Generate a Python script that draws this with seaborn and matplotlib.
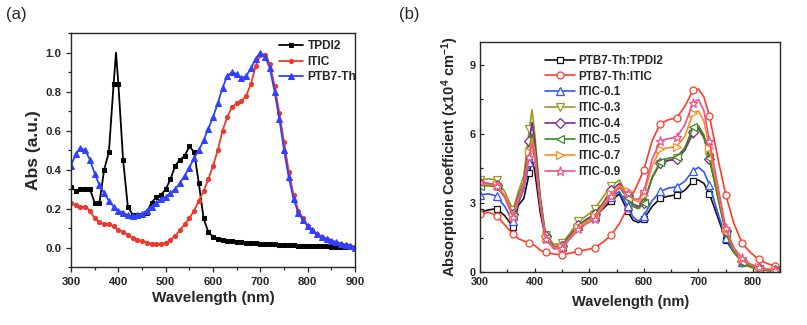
import matplotlib
matplotlib.use("Agg")
import matplotlib.pyplot as plt
import seaborn as sns
import numpy as np
from matplotlib.ticker import MultipleLocator

# ---------------- Panel (a) data ----------------
WL_A = list(range(300, 901, 10))
WL_TPDI2 = [300, 310, 320, 330, 340, 350, 360, 370, 380, 390, 395, 400] + list(range(410, 901, 10))
TPDI2 = [0.31, 0.29, 0.30, 0.30, 0.30, 0.23, 0.23, 0.40, 0.49, 0.84, 1.00, 0.84,
         0.45, 0.21, 0.17, 0.165, 0.17, 0.18, 0.23, 0.26, 0.27, 0.30, 0.35, 0.42,
         0.45, 0.47, 0.52, 0.49, 0.33, 0.15, 0.08, 0.055, 0.045, 0.04, 0.035, 0.033,
         0.03, 0.028, 0.026, 0.024, 0.022, 0.02, 0.019, 0.018, 0.017, 0.016, 0.015,
         0.014, 0.012, 0.011, 0.01, 0.01, 0.009, 0.008, 0.007, 0.006, 0.005, 0.005,
         0.004, 0.003, 0.002, 0.0]
ITIC = [0.23, 0.22, 0.21, 0.21, 0.19, 0.15, 0.13, 0.12, 0.12, 0.11, 0.09, 0.08,
        0.065, 0.05, 0.04, 0.035, 0.025, 0.02, 0.02, 0.02, 0.025, 0.04, 0.06, 0.09,
        0.12, 0.15, 0.19, 0.24, 0.29, 0.35, 0.42, 0.50, 0.60, 0.67, 0.72, 0.74, 0.75,
        0.78, 0.84, 0.93, 0.99, 0.99, 0.94, 0.83, 0.69, 0.54, 0.39, 0.27, 0.19, 0.15,
        0.11, 0.09, 0.07, 0.055, 0.045, 0.035, 0.025, 0.02, 0.015, 0.01, 0.005]
PTB7TH = [0.42, 0.48, 0.51, 0.50, 0.45, 0.38, 0.32, 0.28, 0.24, 0.21, 0.19, 0.18,
          0.165, 0.16, 0.165, 0.175, 0.19, 0.21, 0.23, 0.25, 0.26, 0.28, 0.30, 0.33,
          0.37, 0.41, 0.46, 0.50, 0.55, 0.61, 0.67, 0.74, 0.82, 0.88, 0.90, 0.89, 0.87,
          0.88, 0.92, 0.97, 1.00, 0.98, 0.92, 0.80, 0.66, 0.50, 0.36, 0.25, 0.18, 0.14,
          0.11, 0.09, 0.07, 0.055, 0.045, 0.035, 0.03, 0.02, 0.015, 0.01, 0.0]

# ---------------- Panel (b) data ----------------
WL_B = [300, 315, 330, 345, 360, 370, 380, 390, 395, 400, 410, 420, 435, 450, 465,
        480, 495, 510, 525, 540, 555, 570, 580, 590, 600, 615, 630, 645, 660, 675,
        690, 700, 710, 720, 735, 750, 765, 780, 795, 810, 825, 840, 850]
B_TPDI2 = [2.6, 2.7, 2.75, 2.45, 1.97, 2.9, 3.2, 4.3, 4.9, 4.4, 2.6, 1.45, 1.05, 1.1, 1.5,
           2.0, 2.2, 2.4, 2.75, 3.1, 3.4, 2.65, 2.25, 2.15, 2.3, 2.85, 3.2, 3.3, 3.35, 3.55,
           3.95, 4.0, 3.85, 3.4, 2.4, 1.4, 0.85, 0.45, 0.25, 0.15, 0.08, 0.05, 0.05]
B_ITIC = [2.5, 2.6, 2.45, 2.05, 1.65, 1.45, 1.35, 1.25, 1.2, 1.15, 0.95, 0.85, 0.78, 0.75, 0.82,
          0.9, 0.97, 1.05, 1.3, 1.6, 2.1, 2.8, 3.4, 3.9, 4.45, 5.7, 6.45, 6.62, 6.7, 7.2,
          7.9, 7.95, 7.6, 6.8, 5.0, 3.35, 2.1, 1.25, 0.85, 0.55, 0.38, 0.25, 0.2]
B_01 = [3.35, 3.4, 3.3, 2.85, 2.2, 3.0, 3.6, 4.8, 5.4, 5.0, 2.9, 1.5, 1.05, 1.15, 1.55,
        2.0, 2.2, 2.4, 2.85, 3.25, 3.5, 2.85, 2.4, 2.2, 2.45, 3.1, 3.5, 3.65, 3.7, 3.95,
        4.4, 4.55, 4.35, 3.8, 2.6, 1.5, 0.85, 0.45, 0.25, 0.15, 0.08, 0.05, 0.05]
B_03 = [4.0, 4.05, 4.0, 3.5, 2.7, 3.5, 4.2, 6.2, 7.05, 6.0, 3.3, 1.6, 1.2, 1.25, 1.7,
        2.2, 2.45, 2.75, 3.25, 3.75, 4.0, 3.3, 2.95, 2.8, 3.0, 4.1, 4.7, 4.85, 4.95, 5.3,
        6.0, 6.2, 5.8, 5.0, 3.3, 1.7, 0.85, 0.4, 0.2, 0.12, 0.06, 0.04, 0.04]
B_04 = [3.85, 3.85, 3.8, 3.3, 2.5, 3.3, 3.9, 5.7, 6.5, 5.7, 3.2, 1.55, 1.1, 1.15, 1.6,
        2.05, 2.3, 2.5, 3.0, 3.55, 3.85, 3.3, 2.95, 2.85, 3.0, 4.1, 4.75, 4.85, 4.9, 5.3,
        6.1, 6.25, 5.9, 4.9, 3.4, 1.8, 0.95, 0.5, 0.28, 0.18, 0.1, 0.07, 0.06]
B_05 = [3.75, 3.75, 3.7, 3.25, 2.45, 3.25, 3.85, 5.4, 6.0, 5.4, 3.1, 1.5, 1.05, 1.1, 1.55,
        2.0, 2.25, 2.45, 2.95, 3.4, 3.7, 3.2, 2.85, 2.75, 3.0, 4.1, 4.8, 4.95, 5.0, 5.4,
        6.3, 6.35, 5.95, 4.95, 3.3, 1.7, 0.9, 0.45, 0.25, 0.15, 0.08, 0.05, 0.05]
B_07 = [3.85, 3.8, 3.8, 3.3, 2.45, 3.2, 3.8, 5.2, 5.8, 5.2, 3.0, 1.5, 1.05, 1.1, 1.5,
        1.95, 2.2, 2.4, 2.9, 3.4, 3.75, 3.5, 3.15, 3.05, 3.35, 4.6, 5.35, 5.4, 5.45, 5.9,
        6.9, 7.0, 6.55, 5.4, 3.6, 1.85, 1.0, 0.55, 0.32, 0.2, 0.12, 0.08, 0.07]
B_09 = [3.9, 3.85, 3.75, 3.25, 2.4, 3.1, 3.7, 5.0, 5.6, 5.0, 2.9, 1.45, 1.0, 1.05, 1.45,
        1.85, 2.1, 2.3, 2.8, 3.3, 3.65, 3.45, 3.2, 3.15, 3.5, 4.9, 5.7, 5.8, 5.85, 6.4,
        7.35, 7.5, 7.0, 5.7, 3.8, 1.9, 1.05, 0.6, 0.35, 0.22, 0.14, 0.1, 0.08]

LABELS_A = ["TPDI2", "ITIC", "PTB7-Th"]
LABELS_B = ["PTB7-Th:TPDI2", "PTB7-Th:ITIC", "ITIC-0.1", "ITIC-0.3",
            "ITIC-0.4", "ITIC-0.5", "ITIC-0.7", "ITIC-0.9"]

# ---------------- Styling ----------------
sns.set_style("ticks")
plt.rcParams["font.family"] = ["Liberation Sans", "DejaVu Sans"]
plt.rcParams["font.weight"] = "bold"
plt.rcParams["mathtext.fontset"] = "custom"
plt.rcParams["mathtext.rm"] = "Liberation Sans:bold"
plt.rcParams["mathtext.it"] = "Liberation Sans:bold"
plt.rcParams["mathtext.default"] = "rm"

fig = plt.figure(figsize=(8.07, 3.25), dpi=100)
axa = fig.add_axes([0.088, 0.178, 0.352, 0.72])
axb = fig.add_axes([0.595, 0.163, 0.372, 0.708])

# ---- panel (a)
peak_idx = WL_TPDI2.index(395)
mk_tp = [i for i in range(len(WL_TPDI2)) if i != peak_idx]
sns.lineplot(x=WL_TPDI2, y=TPDI2, ax=axa, color="black", lw=1.3, marker="s", ms=2.8,
             mec="black", mfc="black", markevery=mk_tp, label=LABELS_A[0], sort=False)
sns.lineplot(x=WL_A, y=ITIC, ax=axa, color="#ee3a2e", lw=1.3, marker="o", ms=3.0,
             mec="#ee3a2e", mfc="#ee3a2e", label=LABELS_A[1], sort=False)
sns.lineplot(x=WL_A, y=PTB7TH, ax=axa, color="#3040ff", lw=1.3, marker="^", ms=4.0,
             mec="#3040ff", mfc="#3040ff", label=LABELS_A[2], sort=False)
axa.set_xlim(300, 900)
axa.set_ylim(-0.1, 1.1)
axa.xaxis.set_major_locator(MultipleLocator(100))
axa.xaxis.set_minor_locator(MultipleLocator(50))
axa.yaxis.set_major_locator(MultipleLocator(0.2))
axa.yaxis.set_minor_locator(MultipleLocator(0.1))
axa.set_yticks([0.0, 0.2, 0.4, 0.6, 0.8, 1.0])
axa.tick_params(which="both", direction="out", labelsize=8.2, width=0.9)
axa.tick_params(which="major", length=3.5)
axa.tick_params(which="minor", length=2)
for t in axa.get_xticklabels() + axa.get_yticklabels():
    t.set_fontweight("bold")
axa.set_xlabel("Wavelength (nm)", fontsize=11, fontweight="bold", labelpad=3)
axa.set_ylabel("Abs (a.u.)", fontsize=12.5, fontweight="bold", labelpad=3)
for s in axa.spines.values():
    s.set_linewidth(1.0)
    s.set_visible(True)
leg = axa.legend(loc="upper right", frameon=False, fontsize=8.6, handlelength=2.0,
                 handletextpad=0.4, labelspacing=0.3, borderaxespad=0.2,
                 bbox_to_anchor=(1.03, 1.0))
for t in leg.get_texts():
    t.set_fontweight("bold")

# ---- panel (b)
mk_b = [i for i, w in enumerate(WL_B) if w % 30 == 0]
series_b = [B_TPDI2, B_ITIC, B_01, B_03, B_04, B_05, B_07, B_09]
colors_b = ["#111111", "#ff3b2b", "#3355ff", "#999922", "#7b2a8c", "#3b8b24", "#ff8c1a", "#f24f8a"]
markers_b = ["s", "o", "^", "v", "D", "<", ">", "*"]
sizes_b = [5, 5, 6, 6, 5, 6, 6, 6.5]
for vals, c, m, ms, lab in zip(series_b, colors_b, markers_b, sizes_b, LABELS_B):
    sns.lineplot(x=WL_B, y=vals, ax=axb, color=c, lw=1.2, marker=m, ms=ms, mec=c,
                 mfc="white", mew=0.9, markevery=mk_b, label=lab, sort=False)
axb.set_xlim(300, 850)
axb.set_ylim(0, 10)
axb.xaxis.set_major_locator(MultipleLocator(100))
axb.xaxis.set_minor_locator(MultipleLocator(50))
axb.yaxis.set_major_locator(MultipleLocator(3))
axb.yaxis.set_minor_locator(MultipleLocator(1.5))
axb.tick_params(which="both", direction="in", labelsize=7.8, width=0.9)
axb.tick_params(which="major", length=3)
axb.tick_params(which="minor", length=2)
for t in axb.get_xticklabels() + axb.get_yticklabels():
    t.set_fontweight("bold")
axb.set_xlabel("Wavelength (nm)", fontsize=10.5, fontweight="bold", labelpad=6)
axb.set_ylabel("Absorption Coefficient (x10$^{4}$ cm$^{-1}$)", fontsize=10.5,
               fontweight="bold", labelpad=6)
for s in axb.spines.values():
    s.set_linewidth(1.0)
    s.set_visible(True)
legb = axb.legend(loc="upper left", frameon=False, fontsize=8.4, handlelength=2.6,
                  handletextpad=0.3, labelspacing=0.33,
                  bbox_to_anchor=(0.18, 0.99))
for t in legb.get_texts():
    t.set_fontweight("bold")

fig.text(0.008, 0.955, "(a)", fontsize=12, fontweight="normal", va="center")
fig.text(0.495, 0.955, "(b)", fontsize=12, fontweight="normal", va="center")

fig.savefig("out.png", dpi=100)
